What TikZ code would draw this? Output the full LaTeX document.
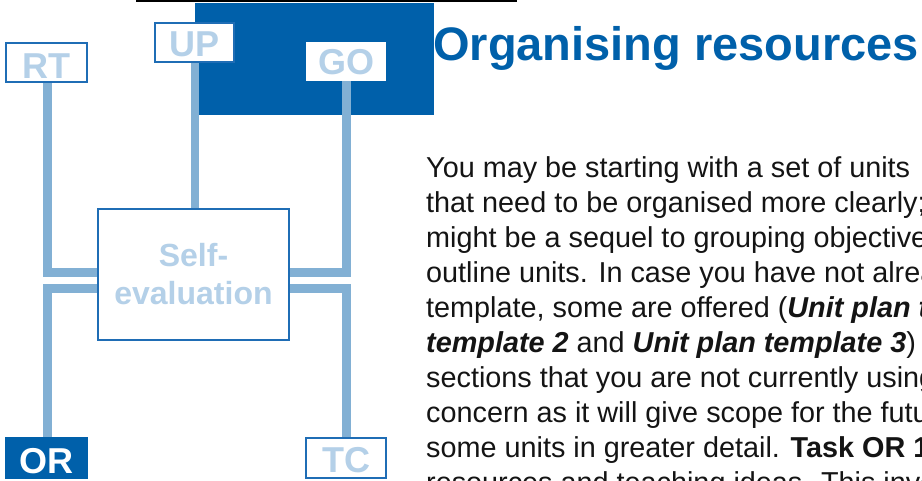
\documentclass[tikz,border=0pt]{standalone}
\usepackage{fontspec}
\setmainfont{Liberation Sans}
\usetikzlibrary{calc}
\definecolor{dblue}{RGB}{0,96,170}
\definecolor{cline}{RGB}{130,176,212}
\definecolor{ltext}{RGB}{180,208,232}
\definecolor{bborder}{RGB}{31,109,181}
\definecolor{bodyc}{RGB}{20,20,20}
\pgfdeclarelayer{back}
\pgfdeclarelayer{bg}
\pgfsetlayers{back,bg,main}
\begin{document}
\begin{tikzpicture}[x=1pt,y=-1pt,
  conn/.style={draw=cline, line width=8.5pt, line join=miter},
  lbox/.style={draw=bborder, line width=1.5pt, fill=white, inner sep=0pt,
    font=\fontsize{36}{36}\selectfont\bfseries, text=ltext, text depth=0pt},
  bodyline/.style={anchor=base west, inner sep=0pt,
    font=\fontsize{28.8}{35}\selectfont, text=bodyc},
  bi/.style={}]
\useasboundingbox (0,0) rectangle (922,480);
\clip (0,0) rectangle (922,480);

\begin{pgfonlayer}{back}
  \fill[dblue] (195,3) rectangle (434,115);
  \fill[black] (136,0) rectangle (517,2.3);
\end{pgfonlayer}

% boxes
\node[lbox, minimum width=81pt, minimum height=39pt, text height=31pt] (RT) at (46.5,62.5) {RT};
\node[lbox, minimum width=79pt, minimum height=39pt, text height=28pt] (UP) at (194.5,42.5) {UP};
\node[lbox, draw=white, minimum width=78pt, minimum height=37pt, text height=26pt] (GO) at (346,61.5) {GO};
\node[lbox, fill=dblue, draw=dblue, text=white, minimum width=81pt, minimum height=40pt, text height=30pt] (OR) at (46.5,458) {OR};
\node[lbox, minimum width=80pt, minimum height=40pt, text height=28pt] (TC) at (346,458) {TC};
\node[draw=bborder, line width=1.2pt, fill=white, inner sep=0pt, align=center,
  minimum width=191pt, minimum height=131pt, text=ltext,
  font=\fontsize{32}{38}\selectfont\bfseries] (SE) at (193.5,274.5) {Self-\\evaluation};

\coordinate (SEwu) at ($(SE.west)+(0,-2)$);
\coordinate (SEwl) at ($(SE.west)+(0,14)$);
\coordinate (SEeu) at ($(SE.east)+(0,-2)$);
\coordinate (SEel) at ($(SE.east)+(0,14)$);

\begin{pgfonlayer}{bg}
  \draw[conn] ([xshift=1pt]RT.south) |- (SEwu);
  \draw[conn] (SEwl) -| ([xshift=1pt]OR.north);
  \draw[conn] ([xshift=0.7pt]GO.south) |- (SEeu);
  \draw[conn] (SEel) -| ([xshift=0.7pt]TC.north);
  \draw[conn] ([xshift=0.5pt]UP.south) -- ([xshift=0.5pt]UP.south |- SE.north);
\end{pgfonlayer}

% title
\node[anchor=base west, inner sep=0pt, text=dblue,
  font=\fontsize{47}{47}\selectfont\bfseries] (title) at (433,60) {Organising resources};

% body text
\node[bodyline] (l1) at (426,177) {You may be starting with a set of units};
\node[bodyline] (l2) at (426,212) {that need to be organised more clearly;};
\node[bodyline] (l3) at (426,247) {might be a sequel to grouping objectives};
\node[bodyline] (l4) at (426,282) {outline units. In case you have not already};
\node[bodyline] (l5) at (426,317) {template, some are offered (\textbf{\textit{Unit plan template 1}}};
\node[bodyline] (l6) at (426,352) {\textbf{\textit{template 2}} and \textbf{\textit{Unit plan template 3}})};
\node[bodyline] (l7) at (426,387) {sections that you are not currently using};
\node[bodyline] (l8) at (426,422) {concern as it will give scope for the future};
\node[bodyline] (l9) at (426,457) {some units in greater detail. \textbf{Task OR 1}};
\node[bodyline] (l10) at (426,492) {resources and teaching ideas. This involves};
\end{tikzpicture}
\end{document}
